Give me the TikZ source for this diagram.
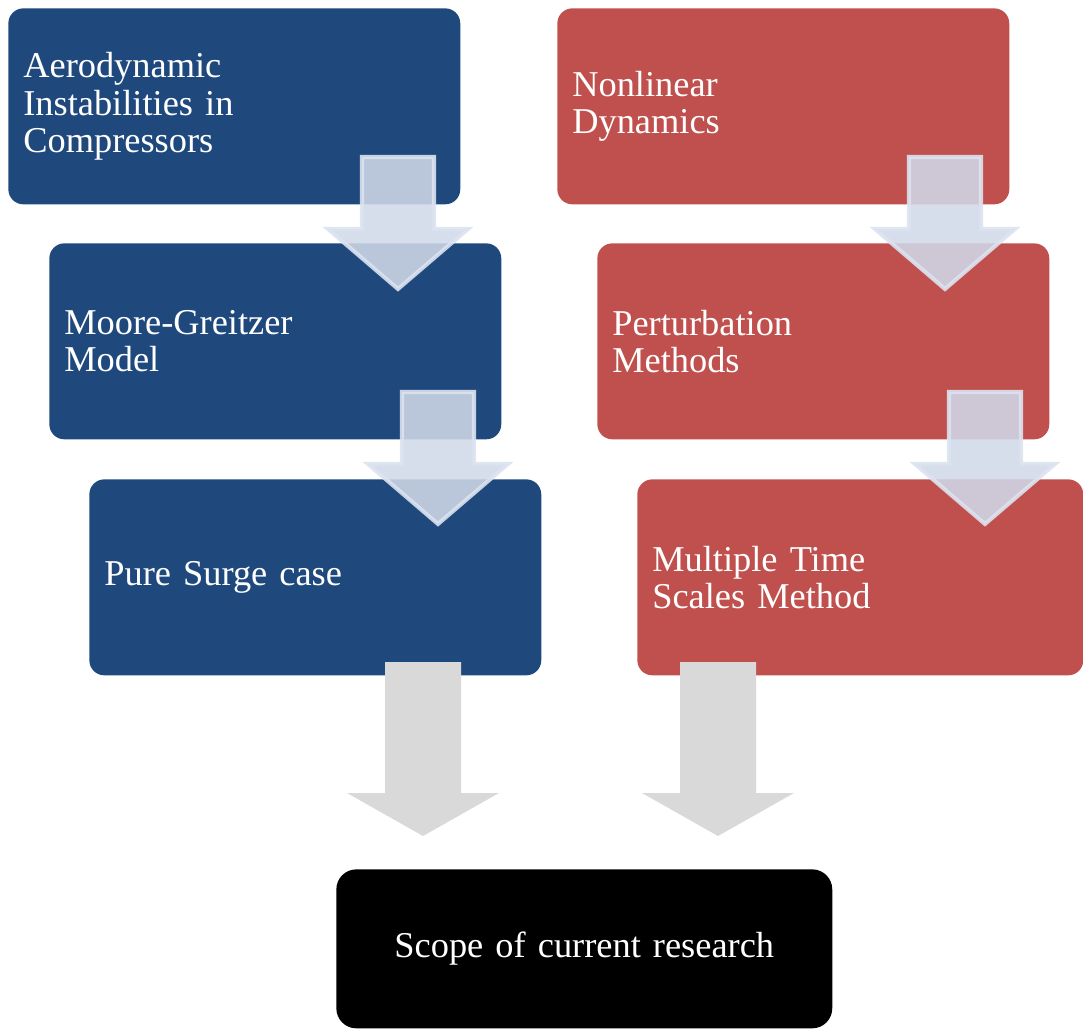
\documentclass[tikz,border=0pt]{standalone}
\usepackage{fontspec}
\setmainfont{Liberation Serif}
\definecolor{boxblue}{HTML}{1F497D}
\definecolor{boxred}{HTML}{C0504D}
\definecolor{arrowfill}{RGB}{208,216,232}
\definecolor{arrowline}{RGB}{220,227,240}
\definecolor{arrowgrey}{HTML}{D9D9D9}
\begin{document}
\begin{tikzpicture}[x=0.02cm, y=-0.02cm,
    every node/.style={anchor=north west, inner xsep=0.3cm, inner ysep=0pt,
                       font=\fontsize{20.7}{21.3}\selectfont, text=white},
    stepbox/.style={shape=rectangle, rounded corners=0.3cm, minimum width=9.04cm,
                    minimum height=3.92cm, text width=8.44cm, align=left},
    bluebox/.style={stepbox, fill=boxblue},
    redbox/.style={stepbox, fill=boxred},
    lightarrow/.style={fill=arrowfill, fill opacity=0.88, draw=arrowline,
                       draw opacity=0.9, line width=2.3pt, line join=miter},
    greyarrow/.style={fill=arrowgrey}]
                  \useasboundingbox (0,0) rectangle (1083,1029);
                  % left column
                  \node[bluebox] (aero) at (8,8) {Aerodynamic\\Instabilities in\\Compressors};
                  \node[bluebox] (moore) at (49,243) {Moore-Greitzer\\Model};
                  \node[bluebox] (surge) at (89,479) {Pure Surge case};
                  % right column
                  \node[redbox] (nonlin) at (557,8) {Nonlinear\\Dynamics};
                  \node[redbox] (pert) at (597,243) {Perturbation\\Methods};
                  \node[redbox, minimum width=8.92cm, text width=8.32cm] (mts) at (637,479) {Multiple Time\\Scales Method};
                  % result
                  \node[stepbox, fill=black, rounded corners=0.4cm, minimum width=9.92cm,
                        minimum height=3.18cm, text width=9.32cm, align=center] (scope) at (336,869) {Scope of current research};
                  % arrows between the steps
                  \foreach \cx/\ty in {398/157, 438/392, 945/157, 985/392}
                      \draw[lightarrow] ({\cx-36},\ty) -- ({\cx+36},\ty) -- ({\cx+36},\ty+72)
                          -- ({\cx+70},\ty+72) -- (\cx,\ty+132) -- ({\cx-70},\ty+72)
                          -- ({\cx-36},\ty+72) -- cycle;
                  \foreach \cx in {423,718}
                      \fill[greyarrow] ({\cx-38},662) -- ({\cx+38},662) -- ({\cx+38},793)
                          -- ({\cx+76},793) -- (\cx,836) -- ({\cx-76},793) -- ({\cx-38},793) -- cycle;
              \end{tikzpicture}
\end{document}
